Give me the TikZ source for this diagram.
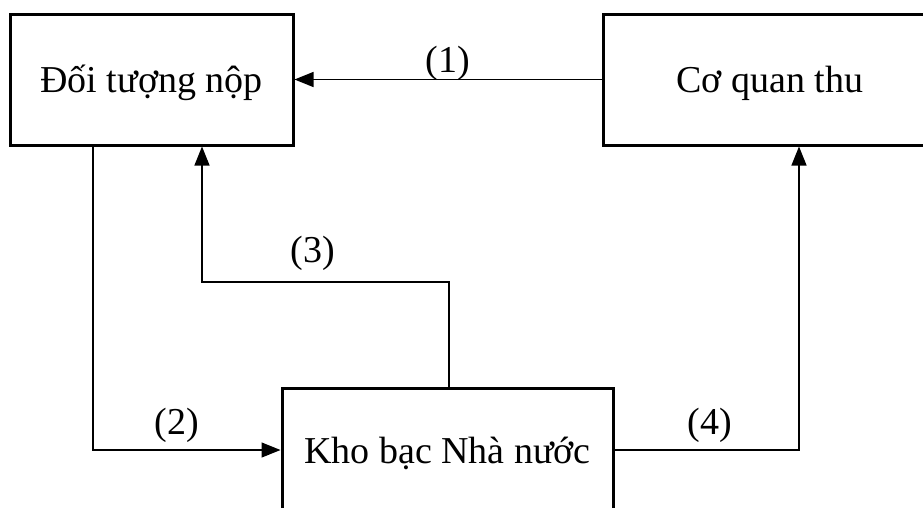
\documentclass[tikz,border=0pt]{standalone}
\usepackage{fontspec}
\setmainfont{Liberation Serif}
\usetikzlibrary{arrows.meta}
\begin{document}
\begin{tikzpicture}[x=1pt,y=-1pt,
  box/.style={draw=black,line width=3pt,minimum width=#1,inner sep=0pt,text height=30pt,text depth=4pt,font=\fontsize{38}{44}\selectfont},
  arr/.style={line width=1.3pt,-{Triangle[length=19pt,width=15pt]}},
  lbl/.style={font=\fontsize{38}{44}\selectfont,inner sep=0pt}]
\useasboundingbox (0,0) rectangle (923,507);
\clip (0,0) rectangle (923,507);
\node[box=283pt,minimum height=131pt] (A) at (151.5,79.5) {Đối tượng nộp};
\node[box=334pt,minimum height=131pt] (B) at (770,79.5) {Cơ quan thu};
\node[box=331pt,minimum height=124pt] (C) at (447.5,450) {Kho bạc Nhà nước};
\coordinate (c2) at (93,450);
\coordinate (c3a) at (449,282);
\coordinate (c3b) at (202,282);
\coordinate (c4) at (799,450);
\draw[arr] (B.west) -- (A.east);
\draw[arr] (c2 |- A.south) -- (c2) -- (C.west);
\draw[arr] (c3a |- C.north) -- (c3a) -- (c3b) -- (c3b |- A.south);
\draw[arr] (C.east) -- (c4) -- (c4 |- B.south);
\node[lbl] (l1) at (448,63) {(1)};
\node[lbl] (l2) at (177,425) {(2)};
\node[lbl] (l3) at (313,253) {(3)};
\node[lbl] (l4) at (710,425) {(4)};
\end{tikzpicture}
\end{document}
